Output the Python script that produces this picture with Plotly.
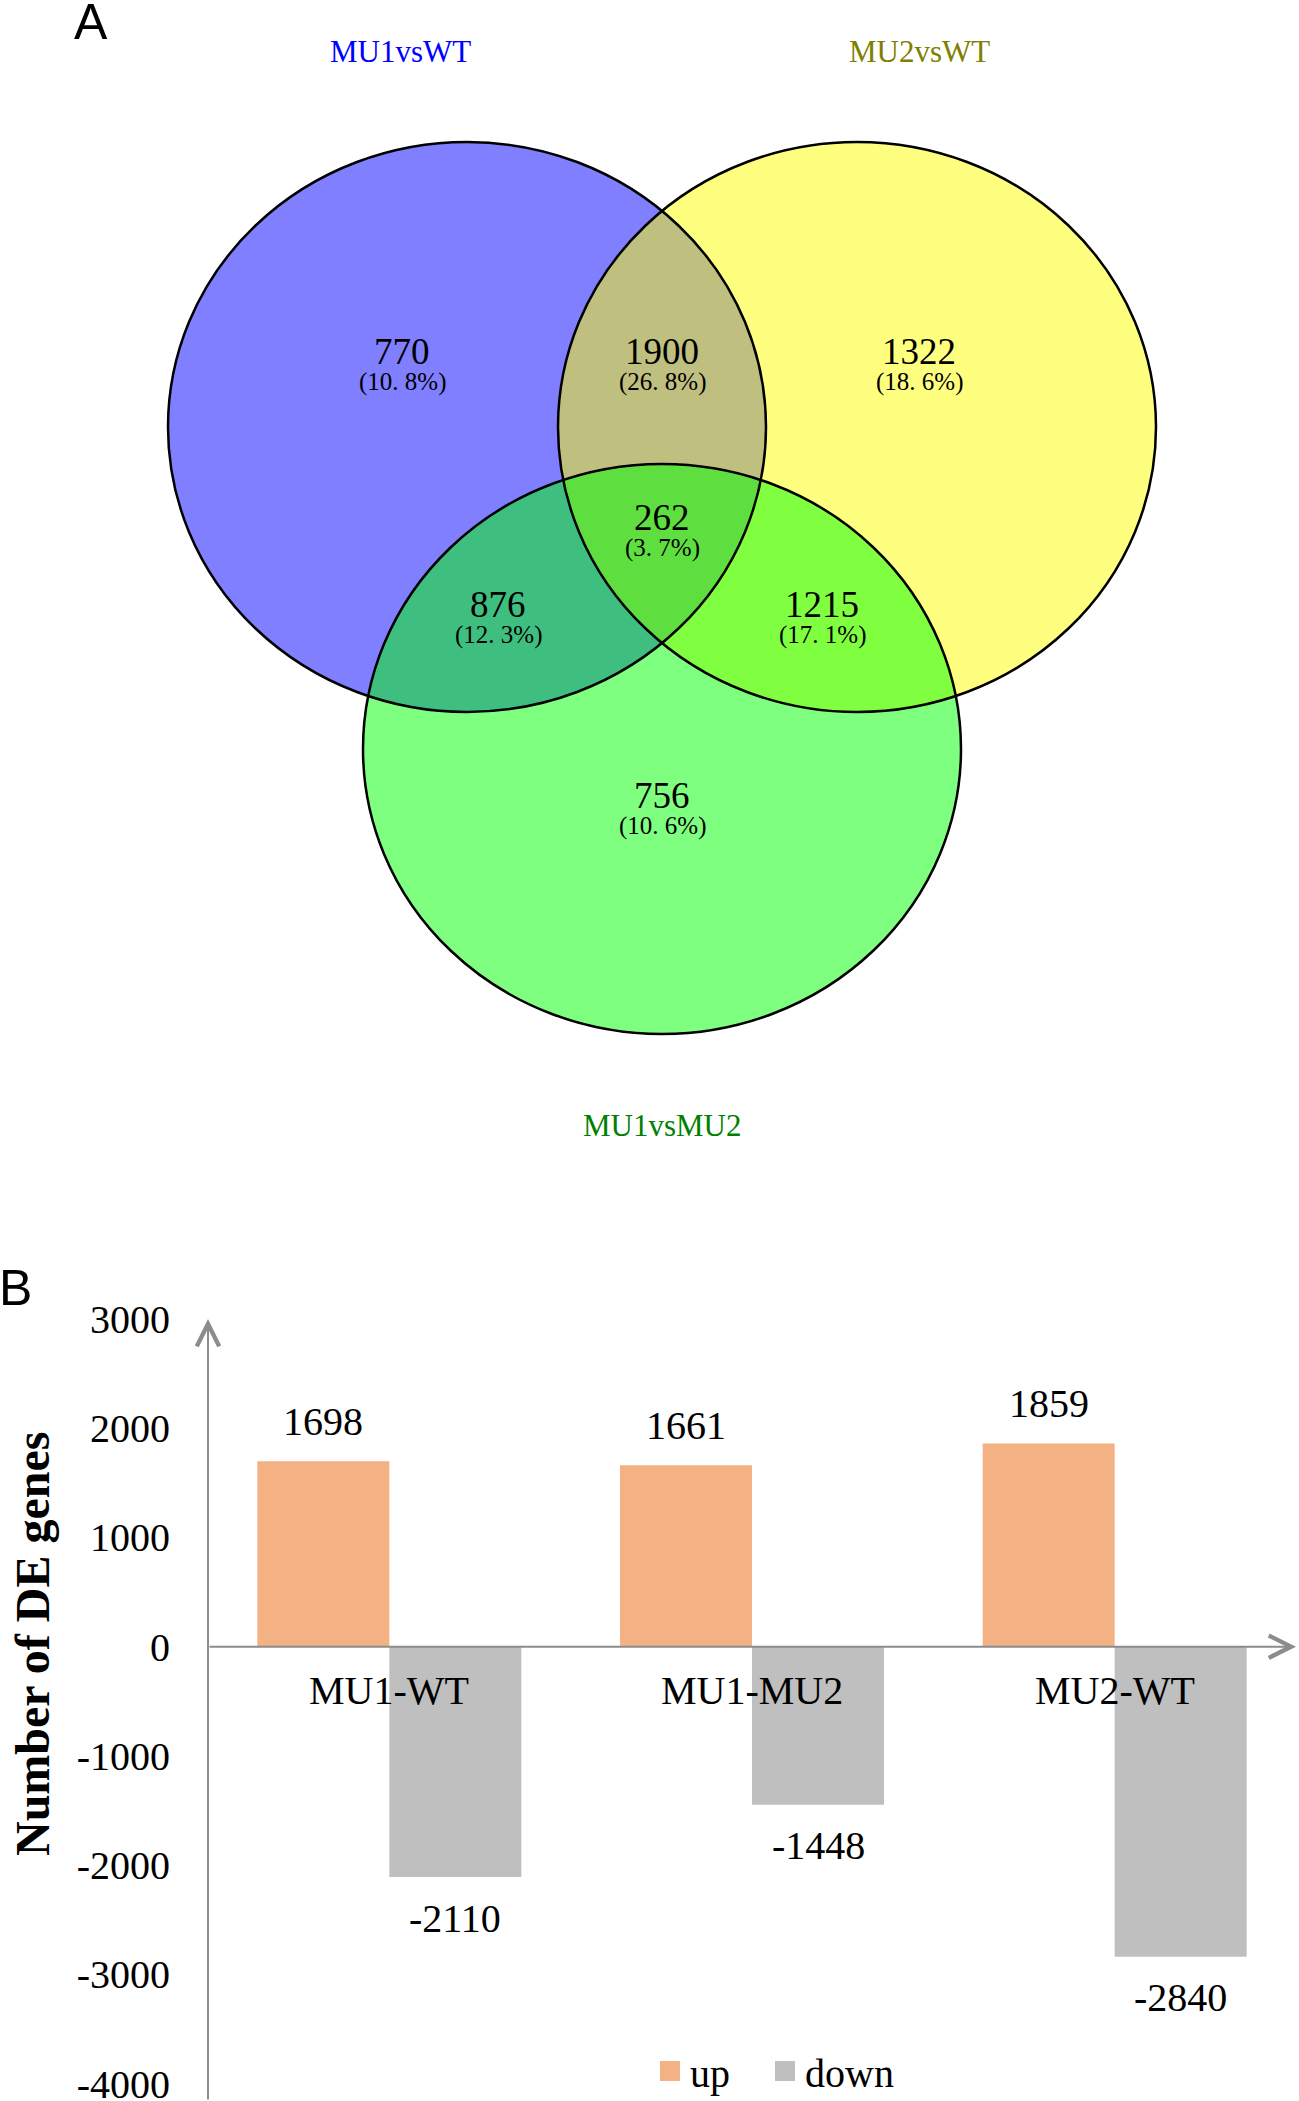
import plotly.graph_objects as go

# Venn diagram data (panel A)
venn_sets = ["MU1vsWT", "MU2vsWT", "MU1vsMU2"]
venn_counts = [770, 1900, 1322, 876, 262, 1215, 756]
venn_pcts = ["10. 8%", "26. 8%", "18. 6%", "12. 3%", "3. 7%", "17. 1%", "10. 6%"]

# Bar chart data (panel B)
comparisons = ["MU1-WT", "MU1-MU2", "MU2-WT"]
up_counts = [1698, 1661, 1859]
down_counts = [-2110, -1448, -2840]
y_ticks = [3000, 2000, 1000, 0, -1000, -2000, -3000, -4000]

W, H = 1299, 2101
SERIF = "Liberation Serif, Times New Roman, serif"
UP_COL, DOWN_COL = "#F4B183", "#BFBFBF"

# layout of the venn panel, in pixel units of its own axes
circle_centres = [(467, 427), (857, 427), (662, 749)]
circle_rx, circle_ry = 299, 285
circle_fill = ["rgba(0,0,255,0.5)", "rgba(255,255,0,0.5)",
               "rgba(0,255,0,0.5)"]
set_label_pos = [(400, 51), (919, 51), (662, 1125)]
set_label_col = ["#0000FF", "#808000", "#008000"]
region_pos = [(402, 351), (662, 351), (919, 351), (498, 604),
              (662, 517), (822, 604), (662, 795)]
VENN_H = 1130

fig = go.Figure()

bargap = 0.272
fig.add_trace(go.Bar(x=comparisons, y=up_counts, name="up",
                     marker=dict(color=UP_COL, line=dict(width=0)),
                     showlegend=False))
fig.add_trace(go.Bar(x=comparisons, y=down_counts, name="down",
                     marker=dict(color=DOWN_COL, line=dict(width=0)),
                     showlegend=False))
# legend entries with bigger square keys (padding spaces widen the gap)
for name, col in [("up\u00a0\u00a0\u00a0", UP_COL), ("down", DOWN_COL)]:
    fig.add_trace(go.Scatter(x=[None], y=[None], mode="markers", name=name,
                             marker=dict(symbol="square", size=20,
                                         color=col,
                                         line=dict(color=col, width=4))))
# placeholder so the venn axes exist
fig.add_trace(go.Scatter(x=[0], y=[0], xaxis="x2", yaxis="y2", mode="markers",
                         marker=dict(opacity=0), showlegend=False,
                         hoverinfo="skip"))

shapes = []
for (cx, cy), col in zip(circle_centres, circle_fill):
    shapes.append(dict(type="circle", xref="x2", yref="y2",
                       x0=cx - circle_rx, x1=cx + circle_rx,
                       y0=cy - circle_ry, y1=cy + circle_ry,
                       fillcolor=col, line=dict(width=0), layer="above"))
for cx, cy in circle_centres:
    shapes.append(dict(type="circle", xref="x2", yref="y2",
                       x0=cx - circle_rx, x1=cx + circle_rx,
                       y0=cy - circle_ry, y1=cy + circle_ry,
                       line=dict(color="black", width=2.5), layer="above"))

ann = []
for name, (px_, py_), col in zip(venn_sets, set_label_pos, set_label_col):
    ann.append(dict(x=px_, y=py_, xref="x2", yref="y2", text=name,
                    showarrow=False, font=dict(family=SERIF, size=31,
                                               color=col)))
for cnt, pct, (px_, py_) in zip(venn_counts, venn_pcts, region_pos):
    ann.append(dict(x=px_, y=py_, xref="x2", yref="y2", text=str(cnt),
                    showarrow=False,
                    font=dict(family=SERIF, size=37, color="black")))
    ann.append(dict(x=px_, y=py_ + 31, xref="x2", yref="y2",
                    text=f"({pct})", showarrow=False,
                    font=dict(family=SERIF, size=25, color="black")))

# panel letters
ann.append(dict(x=91 / W, y=1 - 22 / H, xref="paper", yref="paper", text="A",
                showarrow=False, xanchor="center", yanchor="middle",
                font=dict(family="Liberation Sans, Arial", size=50,
                          color="black")))
ann.append(dict(x=16 / W, y=1 - 1288 / H, xref="paper", yref="paper",
                text="B", showarrow=False, xanchor="center",
                yanchor="middle",
                font=dict(family="Liberation Sans, Arial", size=50,
                          color="black")))

# bar value labels and category names
half = (1 - bargap) / 4
for i, (cat, u, d) in enumerate(zip(comparisons, up_counts, down_counts)):
    ann.append(dict(x=i - half, y=u, xref="x", yref="y", text=str(u),
                    yshift=40, showarrow=False,
                    font=dict(family=SERIF, size=40, color="black")))
    ann.append(dict(x=i + half, y=d, xref="x", yref="y", text=str(d),
                    yshift=-41, showarrow=False,
                    font=dict(family=SERIF, size=40, color="black")))
    ann.append(dict(x=i, y=0, xref="x", yref="y", text=cat, yshift=-44,
                    showarrow=False,
                    font=dict(family=SERIF, size=40, color="black")))

# axis lines with open arrowheads
axis_col = "#8C8C8C"
ann.append(dict(x=-0.5, y=3000, xref="x", yref="y", ax=-0.5, ay=-4160,
                axref="x", ayref="y", text="", showarrow=True, arrowhead=5,
                arrowsize=2.2, arrowwidth=2, arrowcolor=axis_col))
ann.append(dict(x=2.5, y=0, xref="x", yref="y", ax=-0.5, ay=0,
                axref="x", ayref="y", text="", showarrow=True, arrowhead=5,
                arrowsize=2.2, arrowwidth=2, arrowcolor=axis_col))

# y axis title
ann.append(dict(x=32 / W, y=1 - 1644 / H, xref="paper", yref="paper",
                text="<b>Number of DE genes</b>", textangle=-90,
                showarrow=False, xanchor="center", yanchor="middle",
                font=dict(family=SERIF, size=48, color="black")))

bar_top = 1 - 1319 / H
fig.update_layout(
    width=W, height=H,
    margin=dict(l=0, r=0, t=0, b=0, autoexpand=False),
    paper_bgcolor="white", plot_bgcolor="white",
    barmode="group", bargap=bargap, bargroupgap=0,
    xaxis=dict(domain=[208 / W, 1296 / W], range=[-0.5, 2.5],
               showticklabels=False, showgrid=False, zeroline=False,
               showline=False, ticks=""),
    yaxis=dict(domain=[0, bar_top], range=[-4160, 3000],
               tickvals=y_ticks, ticktext=[str(v) for v in y_ticks],
               ticks="", ticklabelstandoff=37, ticklabeloverflow="allow",
               showgrid=False, zeroline=False, showline=False,
               tickfont=dict(family=SERIF, size=40, color="black")),
    xaxis2=dict(domain=[0, 1], range=[0, W], visible=False,
                anchor="y2"),
    yaxis2=dict(domain=[1 - VENN_H / H, 1], range=[VENN_H, 0],
                visible=False, anchor="x2"),
    shapes=shapes,
    annotations=ann,
    legend=dict(orientation="h", x=650 / W, y=1 - 2071 / H,
                xanchor="left", yanchor="middle", itemwidth=30,
                font=dict(family=SERIF, size=40, color="black"),
                bgcolor="rgba(0,0,0,0)"),
    showlegend=True,
)

fig.write_html("out.html", config={"displayModeBar": False},
               post_script="document.body.style.margin='0';")
